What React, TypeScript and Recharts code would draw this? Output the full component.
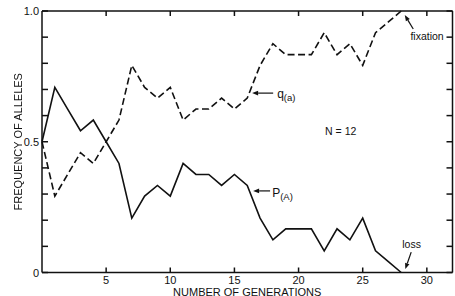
import React from 'react';
import { LineChart, Line, XAxis, YAxis, ReferenceLine, ReferenceDot } from 'recharts';

// generation number and allele frequencies (N = 12, so steps of 1/24)
const GENERATIONS = [0, 1, 2, 3, 4, 5, 6, 7, 8, 9, 10, 11, 12, 13, 14, 15, 16, 17, 18, 19, 20, 21, 22, 23, 24, 25, 26, 27, 28];
const P_A = [0.5, 0.708, 0.625, 0.542, 0.583, 0.5, 0.417, 0.208, 0.292, 0.333, 0.292, 0.417, 0.375, 0.375, 0.333, 0.375, 0.333, 0.208, 0.125, 0.167, 0.167, 0.167, 0.083, 0.167, 0.125, 0.208, 0.083, 0.042, 0];
const Q_A = [0.5, 0.292, 0.375, 0.458, 0.417, 0.5, 0.583, 0.792, 0.708, 0.667, 0.708, 0.583, 0.625, 0.625, 0.667, 0.625, 0.667, 0.792, 0.875, 0.833, 0.833, 0.833, 0.917, 0.833, 0.875, 0.792, 0.917, 0.958, 1];

const X_TICKS = [5, 10, 15, 20, 25, 30];
const Y_TICKS = [0, 0.1, 0.2, 0.3, 0.4, 0.5, 0.6, 0.7, 0.8, 0.9, 1];
const Y_TICK_LABELS: Record<string, string> = { '0': '0', '0.5': '0.5', '1': '1.0' };

// annotation text anchors (data units: generation, frequency)
const NOTES = [
  { text: 'fixation', sub: '', x: 28.72, y: 0.889 },
  { text: 'q', sub: '(a)', x: 18.33, y: 0.667 },
  { text: 'N = 12', sub: '', x: 22.07, y: 0.526 },
  { text: 'P', sub: '(A)', x: 17.94, y: 0.289 },
  { text: 'loss', sub: '', x: 28.08, y: 0.094 },
];
const ARROWS = [
  { from: { x: 28.94, y: 0.931 }, to: { x: 28.28, y: 0.985 } },
  { from: { x: 18.02, y: 0.686 }, to: { x: 16.38, y: 0.686 } },
  { from: { x: 17.78, y: 0.312 }, to: { x: 16.46, y: 0.312 } },
  { from: { x: 28.78, y: 0.078 }, to: { x: 28.32, y: 0.013 } },
];

const data = GENERATIONS.map((g, i) => ({ gen: g, p: P_A[i], q: Q_A[i] }));

const INK = '#111';
const FONT = '"Liberation Sans", Arial, sans-serif';
const TICK_W = 1.5;

const LeftTick = (props: any) => {
  const { x, y, payload } = props;
  const label = Y_TICK_LABELS[String(payload.value)];
  return (
    <g>
      <path d={`M${x},${y}h6`} stroke={INK} strokeWidth={TICK_W} fill="none" />
      {label && (
        <text x={x - 3} y={y + 4} textAnchor="end" fontSize={11} fontFamily={FONT} fill={INK}>
          {label}
        </text>
      )}
    </g>
  );
};

const RightTick = (props: any) => {
  const { x, y } = props;
  return <path d={`M${x},${y}h-6`} stroke={INK} strokeWidth={TICK_W} fill="none" />;
};

const BottomTick = (props: any) => {
  const { x, y, payload } = props;
  return (
    <g>
      <path d={`M${x},${y}v-5`} stroke={INK} strokeWidth={TICK_W} fill="none" />
      <text x={x} y={y + 11.5} textAnchor="middle" fontSize={11} fontFamily={FONT} fill={INK}>
        {payload.value}
      </text>
    </g>
  );
};

const TopTick = (props: any) => {
  const { x, y } = props;
  return <path d={`M${x},${y}v5`} stroke={INK} strokeWidth={TICK_W} fill="none" />;
};

const Arrow = (props: any) => {
  const { x1, y1, x2, y2 } = props;
  const a = Math.atan2(y2 - y1, x2 - x1);
  const len = 6;
  const w = 2.3;
  const bx = x2 - len * Math.cos(a);
  const by = y2 - len * Math.sin(a);
  const px = -Math.sin(a) * w;
  const py = Math.cos(a) * w;
  return (
    <g>
      <line x1={x1} y1={y1} x2={bx} y2={by} stroke={INK} strokeWidth={1.2} />
      <polygon points={`${x2},${y2} ${bx + px},${by + py} ${bx - px},${by - py}`} fill={INK} />
    </g>
  );
};

export default function App() {
  return (
    <div style={{ position: 'absolute', left: 0, top: 0, width: 455, height: 296, background: '#fff' }}>
      <LineChart width={455} height={296} data={data} margin={{ top: 0, right: 0, bottom: 0, left: 0 }}>
        <XAxis
          dataKey="gen"
          type="number"
          domain={[0, 32]}
          ticks={X_TICKS}
          interval={0}
          height={23.5}
          tickSize={0}
          tickMargin={0}
          tickLine={false}
          axisLine={{ stroke: INK, strokeWidth: 1.5 }}
          tick={BottomTick}
          label={(p: any) => (
            <text
              x={p.viewBox.x + p.viewBox.width / 2}
              y={p.viewBox.y + 23}
              textAnchor="middle"
              fontSize={11}
              fontFamily={FONT}
              fill={INK}
            >
              NUMBER OF GENERATIONS
            </text>
          )}
        />
        <XAxis
          xAxisId="top"
          dataKey="gen"
          orientation="top"
          type="number"
          domain={[0, 32]}
          ticks={X_TICKS}
          interval={0}
          height={11}
          tickSize={0}
          tickMargin={0}
          tickLine={false}
          axisLine={{ stroke: INK, strokeWidth: 1.5 }}
          tick={TopTick}
        />
        <YAxis
          type="number"
          domain={[0, 1]}
          ticks={Y_TICKS}
          interval={0}
          width={42}
          tickSize={0}
          tickMargin={0}
          tickLine={false}
          axisLine={{ stroke: INK, strokeWidth: 1.5 }}
          tick={LeftTick}
          label={(p: any) => {
            const cx = 21.5;
            const cy = p.viewBox.y + p.viewBox.height / 2;
            return (
              <g style={{ filter: 'grayscale(100%)' }}>
                <text
                  x={cx}
                  y={cy}
                  transform={`rotate(-90, ${cx}, ${cy})`}
                  textAnchor="middle"
                  fontSize={11}
                  fontFamily={FONT}
                  fill={INK}
                >
                  FREQUENCY OF ALLELES
                </text>
              </g>
            );
          }}
        />
        <YAxis
          yAxisId="right"
          orientation="right"
          type="number"
          domain={[0, 1]}
          ticks={Y_TICKS}
          interval={0}
          width={2.5}
          tickSize={0}
          tickMargin={0}
          tickLine={false}
          axisLine={{ stroke: INK, strokeWidth: 1.5 }}
          tick={RightTick}
        />
        <Line
          type="linear"
          dataKey="p"
          stroke={INK}
          strokeWidth={1.6}
          dot={false}
          isAnimationActive={false}
        />
        {/* q is plotted against the top / right axes (same scales) so their ticks get built */}
        <Line
          type="linear"
          dataKey="q"
          xAxisId="top"
          yAxisId="right"
          stroke={INK}
          strokeWidth={1.6}
          strokeDasharray="7 3.5"
          dot={false}
          isAnimationActive={false}
        />
        {ARROWS.map((a, i) => (
          <ReferenceLine key={`arrow-${i}`} segment={[a.from, a.to]} ifOverflow="visible" shape={Arrow} />
        ))}
        {NOTES.map((n, i) => (
          <ReferenceDot
            key={`note-${i}`}
            x={n.x}
            y={n.y}
            ifOverflow="visible"
            shape={(p: any) => (
              <text x={p.cx} y={p.cy} fontSize={n.sub ? 12 : 10.5} fontFamily={FONT} fill={INK}>
                {n.text}
                {n.sub && (
                  <tspan fontSize={9.5} dy={3}>
                    {n.sub}
                  </tspan>
                )}
              </text>
            )}
          />
        ))}
      </LineChart>
    </div>
  );
}
